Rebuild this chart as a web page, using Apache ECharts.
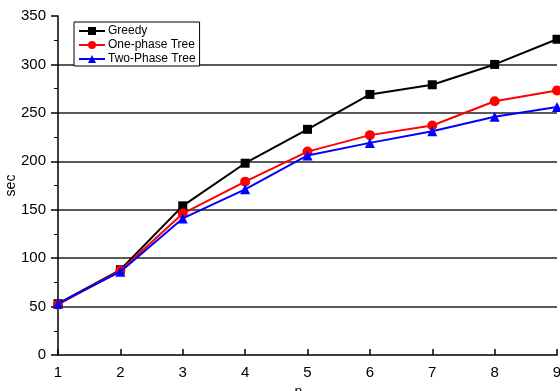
<!DOCTYPE html>
<html><head><meta charset="utf-8">
<script src="https://cdn.jsdelivr.net/npm/echarts@6/dist/echarts.min.js"></script>
<style>html,body{margin:0;padding:0;background:#fff}#c{width:560px;height:391px}</style>
</head><body><div id="c"></div>
<script>
const nValues = [1, 2, 3, 4, 5, 6, 7, 8, 9];
const greedy = [53, 88, 154, 198, 233, 269, 279, 300, 326];
const onePhase = [52, 87, 146, 179, 210, 227, 237, 262, 273];
const twoPhase = [53, 86, 141, 171, 206, 219, 231, 246, 256];
const yTicks = [0, 50, 100, 150, 200, 250, 300, 350];
const seriesNames = ['Greedy', 'One-phase Tree', 'Two-Phase Tree'];

const font = 'Liberation Sans, Arial, sans-serif';
function pairs(arr){ return nValues.map((n,i)=>[n, arr[i]]); }
const chart = echarts.init(document.getElementById('c'), null, {renderer:'canvas'});
chart.setOption({
  animation:false,
  backgroundColor:'#fff',
  grid:{left:58, right:3, top:16, bottom:36, containLabel:false, outerBoundsMode:'none'},
  legend:{
    orient:'vertical', left:74, top:22,
    data:seriesNames,
    backgroundColor:'#fff', borderColor:'#000', borderWidth:1,
    padding:[3,4,1,4], itemGap:2, itemWidth:26, itemHeight:10,
    textStyle:{fontFamily:font, fontSize:12, color:'#000', padding:[0,0,0,-2]}
  },
  xAxis:{
    type:'value', min:1, max:9, interval:1,
    name:'n', nameLocation:'middle', nameGap:30, nameMoveOverlap:false,
    nameTextStyle:{fontFamily:font, fontSize:14, color:'#000', padding:[0,18,0,0], verticalAlign:'top'},
    axisLine:{show:true, lineStyle:{color:'#000', width:1.5}},
    axisTick:{show:true, inside:true, length:6, lineStyle:{color:'#000', width:1.5}},
    axisLabel:{fontFamily:font, fontSize:15, color:'#000', margin:10},
    splitLine:{show:false}
  },
  yAxis:{
    type:'value', min:0, max:350, interval:50,
    name:'sec', nameLocation:'middle', nameGap:40, nameRotate:90, nameMoveOverlap:false,
    nameTextStyle:{fontFamily:font, fontSize:14, color:'#000', verticalAlign:'bottom'},
    axisLine:{show:true, lineStyle:{color:'#000', width:1.5}},
    axisTick:{show:true, inside:false, length:7, lineStyle:{color:'#000', width:1.5}},
    minorTick:{show:true, splitNumber:2, length:4, lineStyle:{color:'#000', width:1}},
    axisLabel:{fontFamily:font, fontSize:15, color:'#000', margin:12},
    splitLine:{show:true, showMinLine:false, showMaxLine:false, lineStyle:{color:'#222', width:1.5}}
  },
  series:[
    {name:seriesNames[0], type:'line', data:pairs(greedy), symbol:'rect', symbolSize:9,
     lineStyle:{color:'#000', width:2}, itemStyle:{color:'#000'}, z:3},
    {name:seriesNames[1], type:'line', data:pairs(onePhase), symbol:'circle', symbolSize:10,
     lineStyle:{color:'#ff0000', width:2}, itemStyle:{color:'#ff0000'}, z:4},
    {name:seriesNames[2], type:'line', data:pairs(twoPhase), symbol:'triangle', symbolSize:10,
     lineStyle:{color:'#0000ff', width:2}, itemStyle:{color:'#0000ff'}, z:5}
  ]
});
</script></body></html>
